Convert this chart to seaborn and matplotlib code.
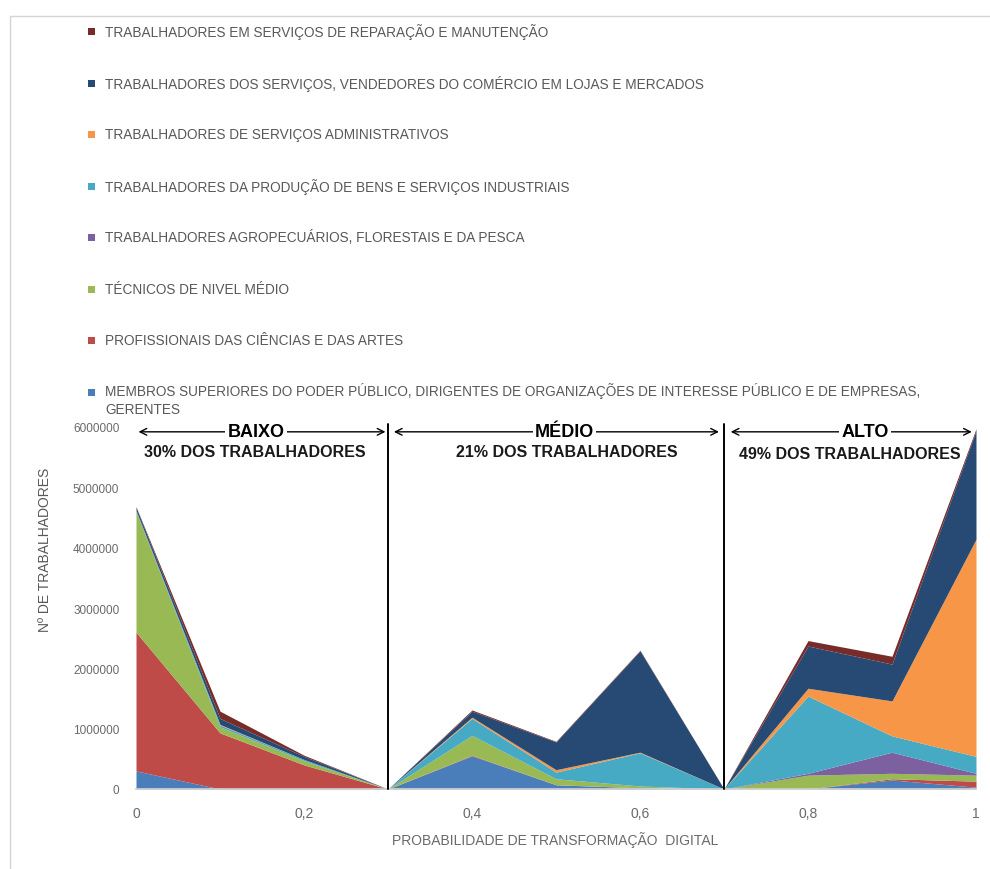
import matplotlib
matplotlib.use("Agg")
import matplotlib.pyplot as plt
from matplotlib.patches import Rectangle
from matplotlib.lines import Line2D
from matplotlib.ticker import FixedLocator, FuncFormatter
import seaborn as sns

# Probability of digital transformation (x) and number of workers per occupational group
prob = [0.0, 0.1, 0.2, 0.3, 0.4, 0.5, 0.6, 0.7, 0.8, 0.9, 1.0]

membros = [300000, 0, 0, 0, 550000, 70000, 20000, 0, 0, 150000, 30000]
profissionais = [2300000, 930000, 400000, 0, 10000, 0, 0, 0, 0, 20000, 100000]
tecnicos = [2000000, 100000, 70000, 0, 330000, 100000, 30000, 0, 230000, 90000, 100000]
agro = [0, 0, 0, 0, 0, 0, 0, 0, 30000, 350000, 30000]
industriais = [20000, 30000, 20000, 0, 280000, 110000, 550000, 0, 1280000, 270000, 280000]
administrativos = [0, 10000, 0, 0, 20000, 40000, 10000, 0, 130000, 580000, 3600000]
servicos = [50000, 100000, 50000, 0, 100000, 460000, 1680000, 0, 700000, 610000, 1800000]
reparacao = [10000, 120000, 20000, 0, 20000, 10000, 10000, 0, 90000, 130000, 30000]

legend_labels = [
    "TRABALHADORES EM SERVIÇOS DE REPARAÇÃO E MANUTENÇÃO",
    "TRABALHADORES DOS SERVIÇOS, VENDEDORES DO COMÉRCIO EM LOJAS E MERCADOS",
    "TRABALHADORES DE SERVIÇOS ADMINISTRATIVOS",
    "TRABALHADORES DA PRODUÇÃO DE BENS E SERVIÇOS INDUSTRIAIS",
    "TRABALHADORES AGROPECUÁRIOS, FLORESTAIS E DA PESCA",
    "TÉCNICOS DE NIVEL MÉDIO",
    "PROFISSIONAIS DAS CIÊNCIAS E DAS ARTES",
    "MEMBROS SUPERIORES DO PODER PÚBLICO, DIRIGENTES DE ORGANIZAÇÕES DE INTERESSE PÚBLICO E DE EMPRESAS,\nGERENTES",
]

segment_labels = ["BAIXO", "MÉDIO", "ALTO"]
segment_shares = ["30% DOS TRABALHADORES", "21% DOS TRABALHADORES", "49% DOS TRABALHADORES"]
segment_bounds = [0.3, 0.7]

y_ticks = [0, 1000000, 2000000, 3000000, 4000000, 5000000, 6000000]
x_label = "PROBABILIDADE DE TRANSFORMAÇÃO  DIGITAL"
y_label = "Nº DE TRABALHADORES"

# stacking order, bottom to top
series = [membros, profissionais, tecnicos, agro, industriais,
          administrativos, servicos, reparacao]
colors = ["#4A7EBB", "#BE4B48", "#98B954", "#7D60A0", "#46AAC5",
          "#F79646", "#264A74", "#772C2A"]

sns.set_theme(style="white")
sns.set_palette(colors)
plt.rcParams["font.family"] = ["Liberation Sans", "DejaVu Sans"]

W, H = 990, 870
fig = plt.figure(figsize=(W / 100, H / 100), dpi=100)
fig.patch.set_facecolor("white")


def fx(px):
    return px / W


def fy(py):
    return 1 - py / H


# page frame
fig.add_artist(Line2D([fx(10), fx(10)], [0, fy(17)], color="#d4d4d4", lw=1))
fig.add_artist(Line2D([fx(10), 1], [fy(17), fy(17)], color="#d4d4d4", lw=1))

ax = fig.add_axes([fx(136), fy(790), fx(976) - fx(136), fy(428) - fy(790)])
ax.stackplot(prob, *series, colors=sns.color_palette(), linewidth=0)

ax.set_xlim(0, 1)
ax.set_ylim(0, 6000000)

ax.xaxis.set_major_locator(FixedLocator(prob))


def xfmt(v, pos):
    i = int(round(v * 10))
    if i % 2:
        return ""
    if i == 0:
        return "0"
    if i == 10:
        return "1"
    return f"{v:.1f}".replace(".", ",")


ax.xaxis.set_major_formatter(FuncFormatter(xfmt))
ax.yaxis.set_major_locator(FixedLocator(y_ticks))
ax.yaxis.set_major_formatter(FuncFormatter(lambda v, p: f"{int(v)}"))
ax.tick_params(axis="x", length=4, width=0.8, color="#d0d0d0", pad=8,
               labelsize=10, labelcolor="#6a6a6a")
ax.tick_params(axis="y", length=0, pad=12, labelsize=8.5, labelcolor="#6a6a6a")

sns.despine(ax=ax, left=True)
ax.spines["bottom"].set_color("#d0d0d0")

# segment separators
for b in segment_bounds:
    ax.plot([b, b], [0, 6050000], color="black", lw=1.4, clip_on=False, zorder=5)

# segment arrows and captions
arrow_spans = [(0.003, 0.297), (0.307, 0.694), (0.708, 0.995)]
title_x = [0.143, 0.51, 0.868]
share_x = [0.142, 0.513, 0.85]
share_y = [5600000, 5600000, 5560000]
for (a, b), lab, sh, tx, sx, sy in zip(arrow_spans, segment_labels, segment_shares,
                                       title_x, share_x, share_y):
    ax.annotate("", xy=(a, 5920000), xytext=(b, 5920000),
                arrowprops=dict(arrowstyle="<->", color="black", lw=1.0,
                                shrinkA=0, shrinkB=0, mutation_scale=12),
                zorder=6, annotation_clip=False)
    ax.text(tx, 5920000, lab, ha="center", va="center", fontsize=13,
            fontweight="bold", color="black", zorder=7,
            bbox=dict(facecolor="white", edgecolor="none", pad=1.5))
    ax.text(sx, sy, sh, ha="center", va="center", fontsize=11.5,
            fontweight="bold", color="#1a1a1a", zorder=7,
            bbox=dict(facecolor="white", edgecolor="none", pad=2))

# axis titles
fig.text(fx(555), fy(840), x_label, ha="center", va="center", fontsize=10,
         color="#6a6a6a")
fig.text(fx(45), fy(550), y_label, ha="center", va="center", fontsize=10,
         color="#595959", rotation=90)

# legend, top entry first
legend_colors = list(reversed(colors))
legend_y = [32, 84, 135, 187, 238, 290, 341, 393]
for lab, col, yc in zip(legend_labels, legend_colors, legend_y):
    fig.add_artist(Rectangle((fx(88), fy(yc + 3.5)), 7 / W, 7 / H,
                             transform=fig.transFigure, facecolor=col,
                             edgecolor="none"))
    if "\n" in lab:
        fig.text(fx(105), fy(yc + 7), lab, ha="left", va="center", fontsize=9.8,
                 color="#595959", linespacing=1.37)
    else:
        fig.text(fx(105), fy(yc), lab, ha="left", va="center", fontsize=9.8,
                 color="#595959")

fig.savefig("out.png", dpi=100, facecolor="white")
